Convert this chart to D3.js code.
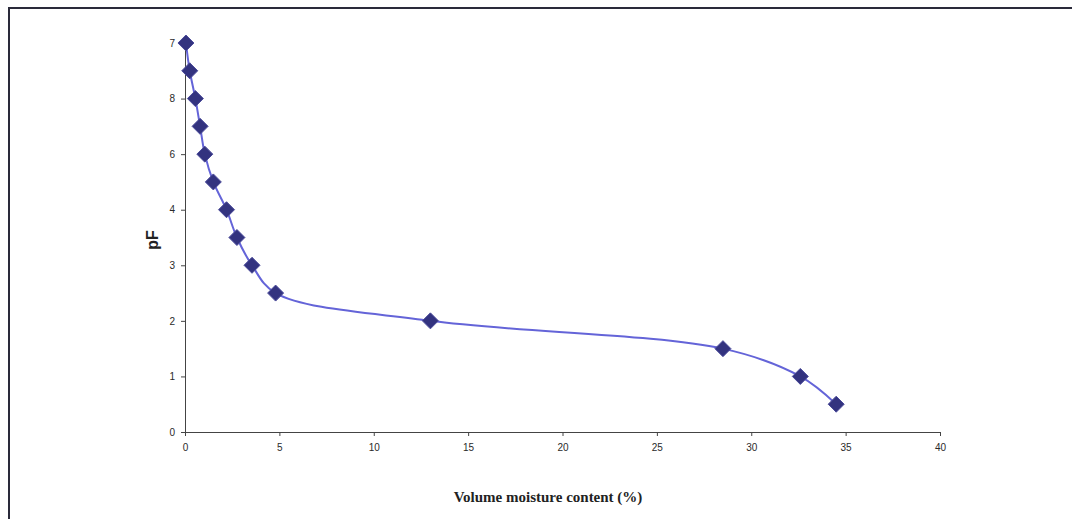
<!DOCTYPE html>
<html lang="en">
<head>
    <meta charset="UTF-8">
    <title>pF curve</title>
    <style>
        body{ margin:0; background:#fff; }
        svg{ display:block; }
        .tick text{ font-family: Arial, "Liberation Sans", sans-serif; font-size: 10px; fill:#2a2a2a; }
    </style>
    <script src="https://cdn.jsdelivr.net/npm/d3@7"></script>
</head>
<body>
<script>
    const width = 1072
    const height = 519

    // data
    const moisture = [0.05, 0.25, 0.55, 0.8, 1.05, 1.5, 2.2, 2.75, 3.55, 4.8, 13.0, 28.5, 32.6, 34.5]
    const pF = [7, 6.5, 6, 5.5, 5, 4.5, 4, 3.5, 3, 2.5, 2, 1.5, 1, 0.5]
    const xTicks = [0, 5, 10, 15, 20, 25, 30, 35, 40]
    const yTicks = [0, 1, 2, 3, 4, 5, 6, 7]
    const yTickLabels = ["0", "1", "2", "3", "4", "6", "8", "7"]

    const points = moisture.map((m, i) => ({x: m, y: pF[i]}))

    let svg = d3.select("body").append("svg")
        .attr("width", width).attr("height", height)

    // frame
    svg.append("path")
        .attr("d", `M9,${height} L9,8 L${width},8`)
        .attr("fill", "none")
        .attr("stroke", "#2a2a3a")
        .attr("stroke-width", 2)

    const x = d3.scaleLinear().domain([0, 40]).range([185, 940])
    const y = d3.scaleLinear().domain([0, 7]).range([432, 43])

    //axes
    svg.append("g")
        .attr("transform", `translate(0,${y(0)})`)
        .call(d3.axisBottom(x).tickValues(xTicks).tickSize(4).tickPadding(8).tickSizeOuter(0))
        .call(g => g.select(".domain").attr("stroke", "#444"))
        .call(g => g.selectAll(".tick line").attr("stroke", "#444"))

    svg.append("g")
        .attr("transform", `translate(${x(0)},0)`)
        .call(d3.axisLeft(y).tickValues(yTicks).tickFormat((d, i) => yTickLabels[i]).tickSize(4).tickPadding(6).tickSizeOuter(0))
        .call(g => g.select(".domain").attr("stroke", "#444"))
        .call(g => g.selectAll(".tick line").attr("stroke", "#444"))

    // smoothed line
    const line = d3.line()
        .x(d => x(d.x)).y(d => y(d.y))
        .curve(d3.curveCatmullRom.alpha(0.5))

    svg.append("path")
        .datum(points)
        .attr("d", line)
        .attr("fill", "none")
        .attr("stroke", "#6464d8")
        .attr("stroke-width", 2)

    // diamond markers
    svg.selectAll(".marker")
        .data(points)
        .enter()
        .append("path")
        .attr("class", "marker")
        .attr("d", "M0,-8 L8,0 L0,8 L-8,0 Z")
        .attr("transform", d => `translate(${x(d.x)},${y(d.y)})`)
        .attr("fill", "#33337f")
        .attr("stroke", "#4a4a9a")
        .attr("stroke-width", 1)

    //axis titles
    svg.append("text")
        .text("pF")
        .attr("transform", `translate(158,240) rotate(-90)`)
        .attr("text-anchor", "middle")
        .attr("font-family", "Arial, 'Liberation Sans', sans-serif")
        .attr("font-weight", "bold")
        .attr("font-size", 16)
        .attr("fill", "#222")

    svg.append("text")
        .text("Volume moisture content (%)")
        .attr("x", 548).attr("y", 502)
        .attr("text-anchor", "middle")
        .attr("font-family", "'Liberation Serif', 'Times New Roman', serif")
        .attr("font-weight", "bold")
        .attr("font-size", 15)
        .attr("fill", "#222")
</script>
</body>
</html>
